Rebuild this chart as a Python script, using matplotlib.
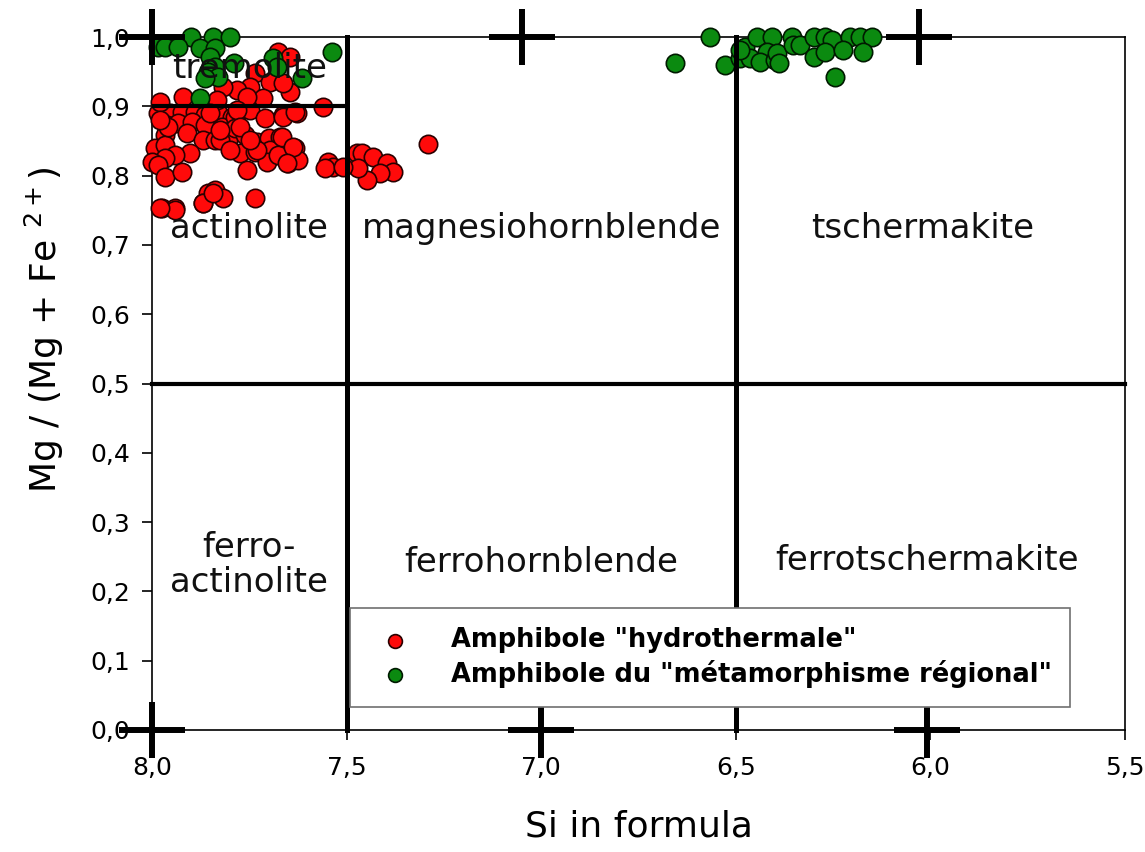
import matplotlib
matplotlib.use("Agg")
import matplotlib.pyplot as plt
from matplotlib.path import Path
from matplotlib.ticker import FuncFormatter

plt.rcParams['font.family'] = ['DejaVu Sans']

# ---------------- data ----------------
red_si = [7.985, 7.954, 7.923, 7.89, 7.864, 7.83, 7.794,
          7.961, 7.933, 7.897, 7.864, 7.82, 7.79,
          7.967, 7.91, 7.87, 7.838, 7.805,
          7.992, 7.967, 7.902, 7.941, 7.967, 8.0, 7.985,
          7.967, 7.923,
          7.856, 7.838, 7.818, 7.87, 7.974, 7.941,
          7.787, 7.748, 7.71, 7.663, 7.627, 7.56,
          7.787, 7.761, 7.73, 7.70, 7.671, 7.633, 7.697,
          7.774, 7.735, 7.705, 7.676, 7.65, 7.625, 7.756,
          7.735, 7.548, 7.535, 7.555, 7.473,
          7.46, 7.432, 7.396, 7.38, 7.414, 7.447, 7.47, 7.509, 7.291,
          7.676, 7.645, 7.735, 7.748, 7.782, 7.645, 7.697, 7.663, 7.715,
          7.756, 7.818, 7.833, 7.92, 7.98,
          7.666, 7.638, 7.653, 7.663, 7.633, 7.73, 7.825, 7.959, 7.98,
          7.782, 7.851, 7.825, 7.774, 7.748, 7.8, 7.869, 7.843, 7.94, 7.98]
red_mg = [0.89, 0.89, 0.892, 0.892, 0.887, 0.89, 0.885,
          0.873, 0.876, 0.877, 0.873, 0.87, 0.869,
          0.859, 0.861, 0.851, 0.851, 0.851,
          0.84, 0.844, 0.833, 0.83, 0.825, 0.82, 0.815,
          0.798, 0.805,
          0.775, 0.779, 0.768, 0.76, 0.753, 0.753,
          0.885, 0.895, 0.883, 0.887, 0.89, 0.899,
          0.869, 0.859, 0.849, 0.854, 0.856, 0.84, 0.837,
          0.833, 0.834, 0.82, 0.83, 0.818, 0.823, 0.808,
          0.768, 0.82, 0.812, 0.811, 0.833,
          0.833, 0.827, 0.818, 0.805, 0.804, 0.794, 0.811, 0.812, 0.846,
          0.978, 0.971, 0.948, 0.928, 0.923, 0.921, 0.935, 0.934, 0.912,
          0.913, 0.928, 0.909, 0.913, 0.906,
          0.856, 0.841, 0.818, 0.885, 0.892, 0.837, 0.851, 0.87, 0.88,
          0.895, 0.89, 0.866, 0.87, 0.851, 0.837, 0.76, 0.775, 0.75, 0.753]

green_si = [7.90, 7.843, 7.80, 7.985, 7.967, 7.933, 7.877, 7.838, 7.85, 7.838,
            7.856, 7.83, 7.877, 7.537, 7.689, 7.68, 7.614, 7.79, 7.864,
            6.566, 6.656, 6.528, 6.476, 6.489, 6.464, 6.446, 6.407, 6.42, 6.438,
            6.40, 6.356, 6.394, 6.39, 6.353, 6.335, 6.30, 6.27, 6.253, 6.207,
            6.181, 6.15, 6.30, 6.271, 6.225, 6.173, 6.245, 6.489]
green_mg = [1.0, 1.0, 1.0, 0.986, 0.986, 0.986, 0.984, 0.984, 0.971, 0.957,
            0.95, 0.942, 0.912, 0.978, 0.97, 0.957, 0.941, 0.962, 0.941,
            1.0, 0.962, 0.96, 0.986, 0.97, 0.97, 1.0, 1.0, 0.978, 0.964,
            0.967, 1.0, 0.977, 0.962, 0.988, 0.988, 1.0, 1.0, 0.996, 1.0,
            1.0, 1.0, 0.971, 0.978, 0.981, 0.978, 0.942, 0.981]

cross_si = [8.0, 7.05, 6.03, 8.0, 7.0, 6.01]
cross_mg = [1.0, 1.0, 1.0, 0.0, 0.0, 0.0]

vert_si = [7.5, 6.5]            # vertical boundaries (full height)
horiz_mg = [0.5]                # horizontal boundary (full width)
tremolite_mg = 0.9              # tremolite/actinolite boundary
tremolite_si = [8.0, 7.5]

region_names = ["tremolite", "actinolite", "magnesiohornblende", "tschermakite",
                "ferro-\nactinolite", "ferrohornblende", "ferrotschermakite"]
region_si = [7.75, 7.75, 7.0, 6.02, 7.75, 7.0, 6.01]
region_mg = [0.955, 0.724, 0.724, 0.724, 0.238, 0.241, 0.245]

series_labels = ['Amphibole "hydrothermale"', 'Amphibole du "métamorphisme régional"']

xticks = [8.0, 7.5, 7.0, 6.5, 6.0, 5.5]
yticks = [0.0, 0.1, 0.2, 0.3, 0.4, 0.5, 0.6, 0.7, 0.8, 0.9, 1.0]

# ---------------- figure ----------------
fig = plt.figure(figsize=(11.45, 8.52), dpi=100)
ax = fig.add_axes([152/1145, 1 - 730/852, (1125-152)/1145, (730-37)/852])
ax.set_xlim(8.0, 5.5)
ax.set_ylim(0.0, 1.0)

for s in ax.spines.values():
    s.set_linewidth(1.2)
    s.set_zorder(1)

# boundary lines
for xv in vert_si:
    ax.plot([xv, xv], [0, 1], color='black', lw=3.6, zorder=3,
            solid_capstyle='projecting', clip_on=False)
for yv in horiz_mg:
    ax.plot([8.0, 5.5], [yv, yv], color='black', lw=3.0, zorder=3, clip_on=False)
ax.plot(tremolite_si, [tremolite_mg, tremolite_mg], color='black', lw=3.0, zorder=3)

# data
ax.scatter(red_si, red_mg, s=175, c='#ff0a0a', edgecolors='#2a0000',
           linewidths=1.2, zorder=2.5, clip_on=False, label=series_labels[0])
ax.scatter(green_si, green_mg, s=175, c='#0b8a10', edgecolors='#001a00',
           linewidths=1.2, zorder=2.5, clip_on=False, label=series_labels[1])

# crosses
cross_path = Path([(-1.18, 0), (1.18, 0), (0, -1), (0, 1)],
                  [Path.MOVETO, Path.LINETO, Path.MOVETO, Path.LINETO])
ax.plot(cross_si, cross_mg, linestyle='none', marker=cross_path, markersize=47,
        markeredgewidth=4.3, color='black', zorder=5, clip_on=False)

# region labels
for name, xs, ym in zip(region_names, region_si, region_mg):
    ax.text(xs, ym, name, ha='center', va='center', fontsize=24.5,
            color='#111111', zorder=4, linespacing=1.05)

# ticks
ax.set_xticks(xticks)
ax.set_yticks(yticks)
fmt = FuncFormatter(lambda v, p: f"{v:.1f}".replace('.', ','))
ax.xaxis.set_major_formatter(fmt)
ax.yaxis.set_major_formatter(fmt)
ax.tick_params(axis='both', direction='out', length=7, width=1.2, labelsize=18)
ax.tick_params(axis='x', pad=12)
ax.tick_params(axis='y', pad=9)

ax.set_xlabel('Si in formula', fontsize=26)
ax.xaxis.set_label_coords(0.5, -0.115)
ax.set_ylabel(r'Mg / (Mg + Fe $^{2+}$)', fontsize=26)
ax.yaxis.set_label_coords(-0.088, 0.577)

leg = ax.legend(loc='lower left', bbox_to_anchor=(0.2035, 0.033, 0.7395, 0.165),
                mode='expand', borderaxespad=0, frameon=True, fancybox=False,
                framealpha=1.0,
                prop={'weight': 'bold', 'size': 18.5}, markerscale=0.75,
                handlelength=2.0, handletextpad=1.2, borderpad=0.75,
                labelspacing=0.25)
leg.get_frame().set_edgecolor('#707070')
leg.get_frame().set_linewidth(1.2)
leg.set_zorder(6)

fig.savefig('out.png', dpi=100)
